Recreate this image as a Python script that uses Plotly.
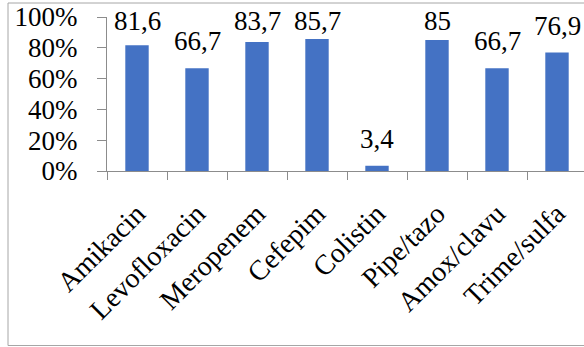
import plotly.graph_objects as go

categories = ["Amikacin", "Levofloxacin", "Meropenem", "Cefepim", "Colistin",
              "Pipe/tazo", "Amox/clavu", "Trime/sulfa"]
values = [81.6, 66.7, 83.7, 85.7, 3.4, 85, 66.7, 76.9]
labels = ["81,6", "66,7", "83,7", "85,7", "3,4", "85", "66,7", "76,9"]

W, H = 584, 347
L, R, T, B = 107, 0, 17, 176
plot_h = H - T - B
plot_w = W - L - R
FONT = "Liberation Serif"
AXIS_COL = "#8c8c8c"

fig = go.Figure()
fig.add_trace(go.Bar(
    x=categories, y=values,
    marker=dict(color="#4472C4", line=dict(width=0)),
    width=0.39,
    hoverinfo="skip",
))

annotations = []
for c, v, lab in zip(categories, values, labels):
    bar_top_px = T + plot_h * (1 - v / 100)
    baseline_px = max(bar_top_px - 16, 32)
    shift = bar_top_px - baseline_px - 6
    annotations.append(dict(
        x=c, y=v, text=lab, showarrow=False, xanchor="center", yanchor="bottom",
        yshift=shift, font=dict(family=FONT, size=27, color="black"),
    ))

# chart border (extends past right edge)
bx0 = (8 - L) / plot_w
bx1 = 1.02
by1 = (H - B - 3) / plot_h
by0 = (H - B - 345.5) / plot_h

fig.update_layout(
    width=W, height=H,
    margin=dict(l=L, r=R, t=T, b=B, pad=0),
    paper_bgcolor="white", plot_bgcolor="white",
    showlegend=False,
    annotations=annotations,
    shapes=[dict(type="rect", xref="paper", yref="paper", x0=bx0, x1=bx1, y0=by0, y1=by1,
                 line=dict(color="#a6a6a6", width=1), layer="below")],
    font=dict(family=FONT, color="black"),
)
fig.update_xaxes(
    range=[-0.5, 7.5 - 3 / 60], showline=True, linecolor=AXIS_COL, linewidth=1,
    ticks="outside", tickson="boundaries", ticklen=8, tickcolor=AXIS_COL,
    ticklabelstandoff=14,
    tickangle=-45, tickfont=dict(family=FONT, size=28, color="black"),
    showgrid=False, zeroline=False, fixedrange=True,
)
fig.update_yaxes(
    range=[0, 100], dtick=20, ticksuffix="%", showline=True, linecolor=AXIS_COL, linewidth=1,
    ticks="outside", ticklen=9, tickcolor=AXIS_COL, ticklabelstandoff=14,
    tickfont=dict(family=FONT, size=27, color="black"),
    showgrid=False, zeroline=False, fixedrange=True,
)
fig.write_html("out.html")
